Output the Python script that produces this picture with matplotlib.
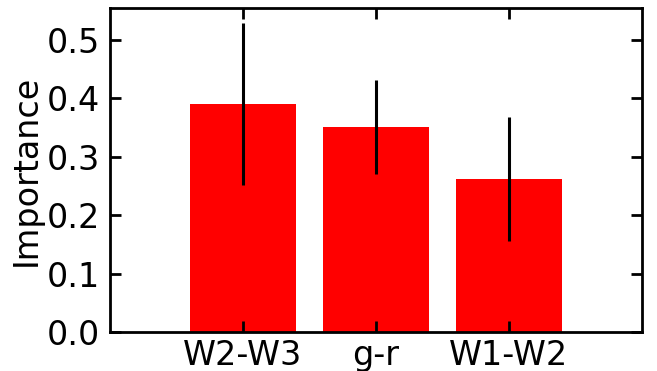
import numpy as np
import matplotlib
matplotlib.use("Agg")
import matplotlib.pyplot as plt

features = ["W2-W3", "g-r", "W1-W2"]
importance = [0.390, 0.351, 0.262]
importance_err = [0.139, 0.081, 0.106]

plt.rcParams['font.size'] = 24

fig = plt.figure(figsize=(6.57, 3.71), dpi=100)
ax = fig.add_axes([110 / 657, 39 / 371, 532 / 657, 324 / 371])

x = np.arange(len(features))
ax.bar(x, importance, width=0.8, color='red', yerr=importance_err,
       error_kw=dict(ecolor='black', elinewidth=2.2, capsize=0))

ax.set_xlim(-1, 3)
ax.set_ylim(0, 0.555)
ax.set_xticks(x)
ax.set_xticklabels(features)
ax.set_yticks(np.arange(0, 0.51, 0.1))
ax.set_ylabel("Importance", labelpad=3)
ax.tick_params(direction='in', top=True, right=True, length=8, width=2, pad=7)
ax.tick_params(axis='x', pad=5)
for s in ax.spines.values():
    s.set_linewidth(2)

fig.savefig("out.png", dpi=100)
